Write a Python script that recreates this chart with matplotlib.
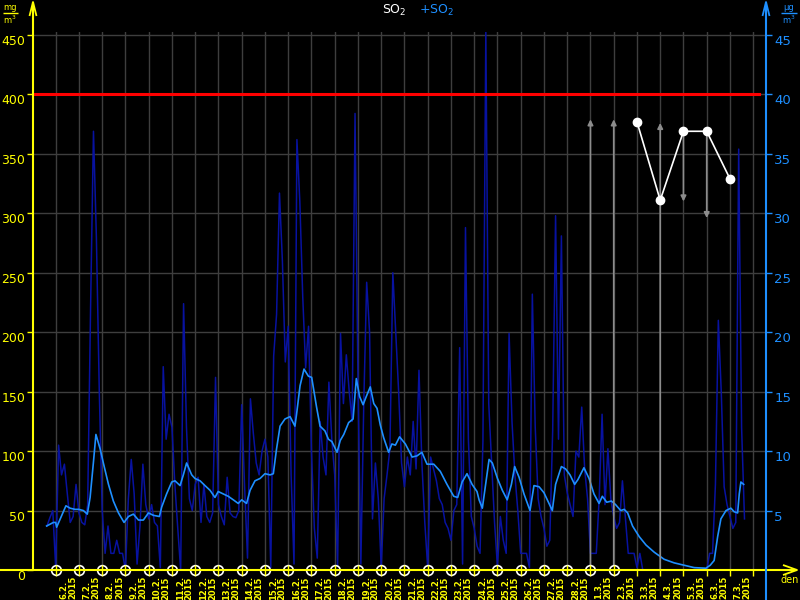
import datetime as dt
import numpy as np
import matplotlib
matplotlib.use("Agg")
import matplotlib.pyplot as plt
from matplotlib.lines import Line2D

# ---------------- data ----------------
start_date = dt.date(2015, 2, 6)          # day 0 on the x axis
hourly_start_day = -0.375                  # first sample (5.2. 15:00)
hourly_step_hours = 3
so2_hourly = [
    37, 44, 50, 2, 105, 80, 89, 64, 40, 45, 72, 48, 40, 38, 55, 220, 369, 280, 150, 50,
    14, 37, 14, 14, 25, 14, 14, 0, 60, 93, 64, 5, 37, 89, 55, 43, 55, 40, 37, 2,
    171, 110, 131, 120, 72, 35, 0, 224,
    120, 60, 50, 72, 78, 40, 72, 45, 40, 48, 162, 55, 45, 38, 78, 48, 45, 44, 50, 139,
    70, 10, 144, 115, 90, 80, 100, 110, 95, 2, 180, 215, 317, 260, 175, 205, 80, 5, 362, 310,
    230, 170, 205, 100, 35, 10, 125, 95, 80, 158,
    110, 80, 3, 199, 140, 181, 150, 125, 384, 160, 5, 140, 242, 200, 43, 90, 60, 2, 60, 80,
    102, 250, 200, 150, 90, 70, 95, 80, 125, 85, 168, 90, 40, 2, 95, 85, 75, 60, 55, 40,
    35, 25, 50, 55, 187, 5, 288, 110, 45, 35, 20,
    14, 108, 453, 140, 90, 40, 3, 45, 25, 14, 199, 125, 80, 50, 14, 14, 14, 2, 232, 120,
    60, 45, 35, 20, 25, 117, 298, 110, 281, 80, 65, 55, 45, 100, 95, 137, 85, 60, 14, 14,
    14, 60, 131, 55, 102, 60, 45, 35, 40, 75,
    45, 14, 14, 14, 2, 14,
    0, 0, 0, 0, 0, 0, 0, 0, 0, 0, 0, 0, 0, 0, 0, 0, 0, 0, 0, 0, 0, 0, 0,
    14, 14, 72, 210, 150, 70, 55, 45, 35, 40, 354, 120, 43,
]

avg_days = [
    -0.39, -0.10, 0.00, 0.04, 0.26, 0.44, 0.62, 0.83, 0.99, 1.19, 1.36, 1.48, 1.62, 1.73,
    1.91, 2.05, 2.27, 2.48, 2.70, 2.94, 3.13, 3.34, 3.56, 3.77, 3.99, 4.20, 4.46, 4.56,
    4.77, 4.99, 5.13, 5.35, 5.49, 5.63, 5.85, 5.99, 6.21, 6.42, 6.64, 6.85, 6.99, 7.21,
    7.42, 7.64, 7.85, 8.00, 8.21, 8.36, 8.57, 8.79, 9.00, 9.22, 9.36, 9.50, 9.65, 9.86,
    10.08, 10.29, 10.36, 10.51, 10.68, 10.87, 11.01, 11.22, 11.37, 11.58, 11.73, 11.88,
    12.10, 12.24, 12.39, 12.60, 12.79, 12.93, 13.07, 13.22, 13.36, 13.53, 13.68, 13.82,
    13.96, 14.11, 14.32, 14.46, 14.61, 14.79, 15.04, 15.33, 15.54, 15.75, 15.97, 16.26,
    16.54, 16.83, 17.12, 17.29, 17.48, 17.69, 17.91, 18.12, 18.21, 18.35, 18.49, 18.64,
    18.78, 19.00, 19.21, 19.42, 19.60, 19.74, 19.93, 20.14, 20.40, 20.57, 20.79, 21.00,
    21.17, 21.36, 21.50, 21.75, 21.93, 22.12, 22.32, 22.46, 22.72, 22.94, 23.15, 23.37,
    23.51, 23.70, 23.90, 24.08, 24.30, 24.45, 24.60, 24.81, 25.10, 25.39, 25.74, 26.17,
    26.60, 27.03, 27.46, 27.97, 28.15, 28.32, 28.47, 28.61, 28.83, 29.04, 29.18, 29.33,
    29.40, 29.47, 29.59,
]
avg_values = [
    37, 40, 40, 36, 46, 54, 52, 51, 51, 50, 47, 61, 90, 114,
    102, 90, 72, 58, 48, 40, 45, 47, 42, 42, 48, 46, 45, 53,
    64, 74, 75, 71, 80, 90, 80, 77, 75, 71, 67, 61, 66, 64,
    62, 59, 56, 59, 56, 67, 75, 77, 81, 80, 81, 102, 121, 127,
    129, 121, 131, 155, 169, 163, 162, 137, 121, 117, 110, 108,
    99, 109, 114, 124, 127, 161, 146, 139, 146, 154, 140, 136,
    122, 111, 99, 106, 105, 112, 106, 95, 96, 99, 89, 89,
    83, 72, 62, 61, 74, 81, 72, 66, 59, 52, 72, 93,
    90, 77, 67, 59, 72, 87, 78, 64, 50, 71, 70, 65,
    58, 50, 72, 87, 85, 80, 72, 76, 86, 77, 64, 56,
    62, 57, 58, 55, 50, 51, 48, 37, 28, 21, 15, 9,
    6, 4, 2, 1.5, 4, 8, 28, 43, 50, 52, 49, 48,
    64, 74, 72,
]

daily_days = [25, 26, 27, 28, 29]
daily_values = [377, 311, 369, 369, 329]

arrow_days = [23, 24, 26, 27, 28]
arrow_from = [0, 0, 0, 369, 369]
arrow_to = [379, 379, 376, 310, 296]

marker_days = list(range(0, 25))
limit_value = 400

left_ticks = [0, 50, 100, 150, 200, 250, 300, 350, 400, 450]
right_ticks = [5, 10, 15, 20, 25, 30, 35, 40, 45]
n_day_labels = 30

# ---------------- styling ----------------
YEL = "#ffff00"
BLUE = "#1e8fff"
NAVY = "#0812a0"
GRID = "#3e3e3e"
W, H = 800, 600

fig = plt.figure(figsize=(8, 6), dpi=100, facecolor="black")


def fx(x):
    return x / W


def fy(y):
    return 1 - y / H


ax = fig.add_axes([fx(33), fy(570), fx(766) - fx(33), fy(32) - fy(570)])
ax.set_facecolor("black")
ax.set_xlim(-0.976, 30.55)
ax.set_ylim(0, 452.5)
for s in ax.spines.values():
    s.set_visible(False)

# grid
for d in range(0, 31):
    ax.axvline(d, color=GRID, lw=1, zorder=0)
for v in left_ticks[1:]:
    ax.axhline(v, color=GRID, lw=1, zorder=0)

# hourly series
t_hourly = hourly_start_day + np.arange(len(so2_hourly)) * hourly_step_hours / 24.0
ax.plot(t_hourly, so2_hourly, color=NAVY, lw=1.1, zorder=2)
# moving average
ax.plot(avg_days, avg_values, color=BLUE, lw=1.2, zorder=3)
# limit line
ax.axhline(limit_value, xmin=0, xmax=(759 - 33) / (766 - 33), color="#ff0000", lw=2.2, zorder=4)
# gray arrows
for d, a, b in zip(arrow_days, arrow_from, arrow_to):
    ax.annotate("", xy=(d, b), xytext=(d, a),
                arrowprops=dict(arrowstyle="-|>", color="#8c8c8c", lw=1.2,
                                mutation_scale=8, shrinkA=0, shrinkB=0), zorder=5)
# daily values
ax.plot(daily_days, daily_values, "-o", color="white", lw=1.2, ms=6, zorder=6)

# axis markers
ax.plot(marker_days, [0] * len(marker_days), "o", mfc="black", mec="white",
        ms=7, mew=1.2, clip_on=False, zorder=8)
ax.plot(marker_days, [0] * len(marker_days), "|", color=YEL, ms=7, mew=1,
        clip_on=False, zorder=9)

# x ticks / labels
ax.set_xticks(range(0, 31))
ax.tick_params(axis="x", which="major", direction="out", length=4, color=YEL,
               width=1, labelbottom=False)
label_pos = [d + 0.55 for d in range(n_day_labels)]
labels = []
for d in range(n_day_labels):
    day = start_date + dt.timedelta(days=d)
    labels.append(f"{day.day}.{day.month}.\n{day.year}")
ax.set_xticks(label_pos, minor=True)
ax.set_xticklabels(labels, minor=True, rotation=90, fontsize=6, color=YEL,
                   fontweight="bold", linespacing=1.0, multialignment="left")
ax.tick_params(axis="x", which="minor", length=0, pad=4)

# left y ticks
ax.set_yticks(left_ticks)
ax.set_yticklabels([str(v) for v in left_ticks], fontsize=9, color=YEL)
ax.tick_params(axis="y", direction="out", length=4, color=YEL, width=1, pad=1.5)
for lbl in ax.get_yticklabels():
    lbl.set_va("top")

# right y axis
ax2 = ax.twinx()
ax2.set_ylim(0, 45.25)
for s in ax2.spines.values():
    s.set_visible(False)
ax2.set_yticks(right_ticks)
ax2.set_yticklabels([str(v) for v in right_ticks], fontsize=9.5, color=BLUE)
ax2.tick_params(axis="y", direction="out", length=4, color=BLUE, width=1, pad=2)
for lbl in ax2.get_yticklabels():
    lbl.set_va("top")


# ---------------- decorations in figure pixels ----------------
def line(xs, ys, color, lw=1.2):
    fig.add_artist(Line2D([fx(x) for x in xs], [fy(y) for y in ys],
                          color=color, lw=lw, transform=fig.transFigure,
                          solid_capstyle="butt"))


# x axis with arrow
line([0, 797], [570, 570], YEL, 1.5)
line([783, 797, 783], [565, 570, 575], YEL, 1.3)
# left axis with arrow
line([33, 33], [570, 2], YEL, 1.5)
line([29.5, 33, 36.5], [16, 2, 16], YEL, 1.3)
# right axis with arrow
line([766, 766], [600, 2], BLUE, 1.5)
line([762.5, 766, 769.5], [16, 2, 16], BLUE, 1.3)

# units
fig.text(fx(10), fy(7), "mg", color=YEL, fontsize=6, ha="center", va="center")
line([3, 18], [13, 13], YEL, 1)
fig.text(fx(10), fy(20), "m$^3$", color=YEL, fontsize=6, ha="center", va="center")
fig.text(fx(789), fy(7), "µg", color=BLUE, fontsize=6, ha="center", va="center")
line([781, 797], [13, 13], BLUE, 1)
fig.text(fx(789), fy(20), "m$^3$", color=BLUE, fontsize=6, ha="center", va="center")

# title
fig.text(fx(407), fy(10), "SO$_2$", color="white", fontsize=9, ha="right", va="center")
fig.text(fx(419), fy(10), "+SO$_2$", color=BLUE, fontsize=9, ha="left", va="center")

# "den" label
fig.text(fx(790), fy(580), "den", color=YEL, fontsize=7, ha="center", va="center")

fig.savefig("out.png", dpi=100, facecolor="black")
